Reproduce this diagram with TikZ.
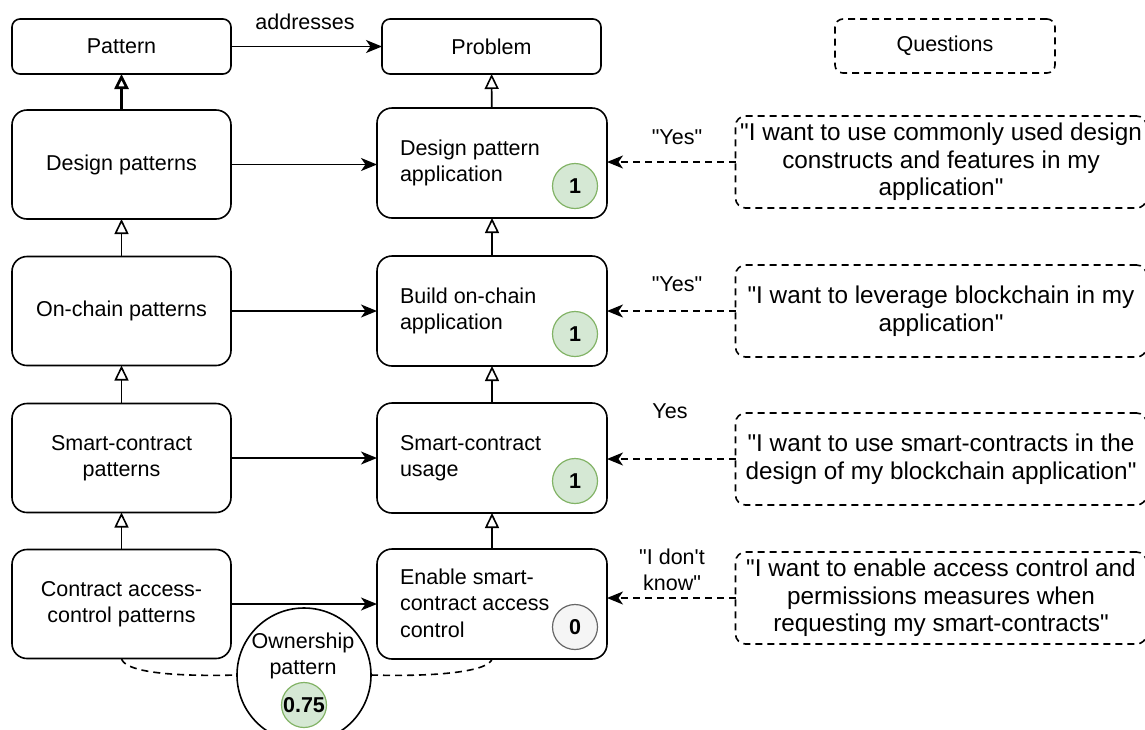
\documentclass[tikz,border=0pt]{standalone}
\usepackage{fontspec}
\setmainfont{Liberation Sans}[Ligatures=TeXOff]
\usetikzlibrary{arrows.meta}
\definecolor{gfill}{HTML}{D5E8D4}
\definecolor{gline}{HTML}{82B366}
\definecolor{hfill}{HTML}{F5F5F5}
\definecolor{hline}{HTML}{666666}
\begin{document}
\begin{tikzpicture}[x=1pt,y=-1pt,
  every node/.style={font=\fontsize{21.5}{26.5}\selectfont, inner sep=0pt, outer sep=0pt},
  lw/.style={line width=1.6pt},
  bigbox/.style={draw, lw, rounded corners=15pt, minimum width=219pt, minimum height=109pt, align=center},
  probbox/.style={draw, lw, rounded corners=15pt, minimum width=230pt, minimum height=110pt},
  topbox/.style={draw, lw, rounded corners=8pt, minimum width=219pt, minimum height=55pt},
  qbox/.style={draw, lw, dash pattern=on 7pt off 5pt, rounded corners=10pt, minimum width=411pt, minimum height=92pt, align=center, font=\fontsize{24.3}{27.5}\selectfont},
  badgeg/.style={circle, draw=gline, fill=gfill, line width=1.2pt, minimum size=45pt, font=\fontsize{21.5}{26}\selectfont\bfseries},
  badgeh/.style={circle, draw=hline, fill=hfill, line width=1.2pt, minimum size=45pt, font=\fontsize{21.5}{26}\selectfont\bfseries},
  solidarrow/.style={lw, -{Stealth[length=16pt, width=13pt, inset=4.5pt]}},
  dasharrow/.style={lw, dash pattern=on 7pt off 5pt, -{Stealth[length=16pt, width=13pt, inset=4.5pt]}},
  inh/.style={lw, -{Triangle[open, length=15pt, width=14pt, fill=white]}},
  dashline/.style={lw, dash pattern=on 7pt off 5pt},
  lbl/.style={align=center}
]
\useasboundingbox (0,0) rectangle (1145,729);
\clip (0,0) rectangle (1145,729);

% top row
\node[topbox] (pat) at (121.5,46.5) {Pattern};
\node[topbox] (prob) at (491.5,46.5) {Problem};
\node[topbox, dash pattern=on 7pt off 5pt, minimum width=220pt, minimum height=54pt] (qs) at (945,46) {Questions};
\draw[solidarrow] (pat) -- (prob);
\node[lbl] (addr) at (305,22) {addresses};

% left column
\node[bigbox] (dp) at (121.5,164.5) {Design patterns};
\node[bigbox] (oc) at (121.5,311) {On-chain patterns};
\node[bigbox] (sc) at (121.5,458) {Smart-contract\\patterns};
\node[bigbox] (ca) at (121.5,604) {Contract access-\\control patterns};

% problem column
\node[probbox] (p1) at (492,163) {};
\node[probbox] (p2) at (492,311) {};
\node[probbox] (p3) at (492,458) {};
\node[probbox] (p4) at (492,604) {};
\node[anchor=west, align=left] (t1) at (400,163) {Design pattern\\application};
\node[anchor=west, align=left] (t2) at (400,311) {Build on-chain\\application};
\node[anchor=west, align=left] (t3) at (400,458) {Smart-contract\\usage};
\node[anchor=west, align=left] (t4) at (400,603) {Enable smart-\\contract access\\control};
\node[badgeg] (b1) at (575,186) {1};
\node[badgeg] (b2) at (575,334) {1};
\node[badgeg] (b3) at (575,481) {1};
\node[badgeh] (b4) at (575,627) {0};

% questions
\node[qbox] (q1) at (941,162) {"I want to use commonly used design\\constructs and features in my\\application"};
\node[qbox] (q2) at (941,311) {"I want to leverage blockchain in my\\application"};
\node[qbox] (q3) at (941,459) {"I want to use smart-contracts in the\\design of my blockchain application"};
\node[qbox] (q4) at (941,598) {"I want to enable access control and\\permissions measures when\\requesting my smart-contracts"};

% inheritance arrows
\draw[inh, line width=2.6pt] (dp) -- (pat);
\draw[inh] (oc) -- (dp);
\draw[inh] (sc) -- (oc);
\draw[inh] (ca) -- (sc);
\draw[inh] (p1) -- (prob);
\draw[inh] (p2) -- (p1);
\draw[inh] (p3) -- (p2);
\draw[inh] (p4) -- (p3);

% horizontal arrows
\draw[solidarrow] (dp) -- (p1.west |- dp);
\draw[solidarrow] (oc) -- (p2);
\draw[solidarrow] (sc) -- (p3);
\draw[solidarrow] (ca) -- (p4);

% question arrows
\draw[dasharrow] (q1.west) -- (q1.west -| p1.east);
\draw[dasharrow] (q2.west) -- (q2.west -| p2.east);
\draw[dasharrow] (q3.west) -- (q3.west -| p3.east);
\draw[dasharrow] (q4.west) -- (q4.west -| p4.east);
\node[lbl] (l1) at (677,137) {"Yes"};
\node[lbl] (l2) at (677,284) {"Yes"};
\node[lbl] (l3) at (670,411) {Yes};
\node[lbl] (l4) at (672,570) {"I don't\\know"};

% ownership pattern
\node[circle, draw, lw, fill=white, minimum size=134pt] (own) at (304,675) {};
\node[lbl] (ownt) at (303,656) {Ownership\\pattern};
\node[badgeg] (b5) at (304,705) {0.75};
\draw[dashline] (ca.south) .. controls (124,670) and (160,677) .. (own.west);
\draw[dashline] (own.east) .. controls (440,677) and (489,671) .. (p4.south);
\end{tikzpicture}
\end{document}
